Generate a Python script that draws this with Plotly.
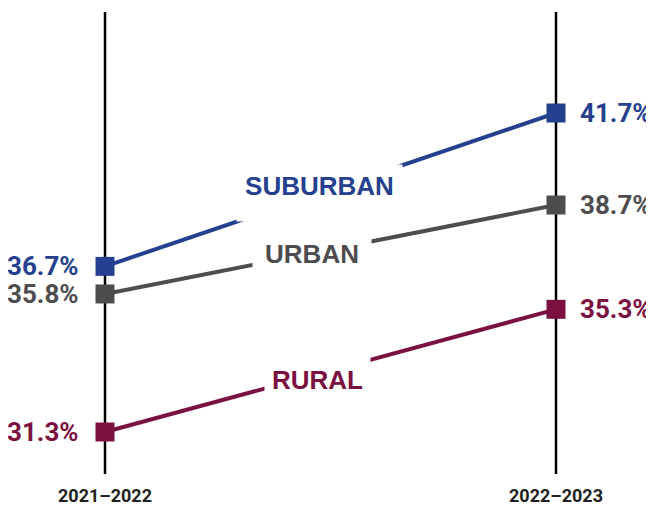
import plotly.graph_objects as go

# ---- data ----
periods = ["2021–2022", "2022–2023"]
series_names = ["SUBURBAN", "URBAN", "RURAL"]
suburban = [36.7, 41.7]
urban = [35.8, 38.7]
rural = [31.3, 35.3]

colors = {"SUBURBAN": "#24408e", "URBAN": "#4d4d4f", "RURAL": "#7b1141"}
values = {"SUBURBAN": suburban, "URBAN": urban, "RURAL": rural}

# page body has an 8px margin, so the figure is 8px smaller each way
OFF = 8
W, H = 654 - OFF, 510 - OFF
label_style = {
    "SUBURBAN": dict(frac=0.476, width=153, height=44, pad=6, valign="top", yshift=0),
    "URBAN": dict(frac=0.458, width=118, height=30, pad=0, valign="bottom", yshift=-1),
    "RURAL": dict(frac=0.472, width=105, height=40, pad=0, valign="bottom", yshift=-1),
}

num_font = "Roboto, Arial, sans-serif"
wide = "Liberation Sans, Arial, sans-serif"

xs = list(range(len(periods)))
fig = go.Figure()

for name in series_names:
    fig.add_trace(go.Scatter(
        x=xs, y=values[name], mode="lines+markers",
        line=dict(color=colors[name], width=4),
        marker=dict(symbol="square", size=19, color=colors[name], line=dict(width=0)),
        hoverinfo="skip", showlegend=False,
    ))

annotations = []
for name in series_names:
    v = values[name]
    c = colors[name]
    annotations.append(dict(
        x=0, y=v[0], xref="x", yref="y", text=f"{v[0]:.1f}%", showarrow=False,
        xanchor="right", yanchor="middle", xshift=-24,
        font=dict(family=num_font, size=26, color=c, weight="bold"),
    ))
    annotations.append(dict(
        x=1, y=v[1], xref="x", yref="y", text=f"{v[1]:.1f}%", showarrow=False,
        xanchor="left", yanchor="middle", xshift=22,
        font=dict(family=num_font, size=26, color=c, weight="bold"),
    ))
    s = label_style[name]
    ly = v[0] + (v[1] - v[0]) * s["frac"]
    annotations.append(dict(
        x=s["frac"], y=ly, xref="x", yref="y", text=name, showarrow=False,
        xanchor="center", yanchor="middle", yshift=s["yshift"],
        width=s["width"], height=s["height"], valign=s["valign"],
        bgcolor="white", borderpad=s["pad"],
        font=dict(family=wide, size=26, color=c, weight="bold"),
    ))

for i, p in enumerate(periods):
    annotations.append(dict(
        x=i, y=1 - (495 - OFF) / H, xref="x", yref="paper", text=p, showarrow=False,
        xanchor="center", yanchor="middle",
        font=dict(family=num_font, size=18, color="#231f20", weight="bold"),
    ))

shapes = []
for i in xs:
    shapes.append(dict(
        type="line", xref="x", yref="paper", x0=i, x1=i,
        y0=1 - (474 - OFF) / H, y1=1 - (12 - OFF) / H,
        line=dict(color="black", width=2.5), layer="below",
    ))

x_lo = -(105 - OFF) / 451
x_hi = x_lo + W / 451
px_per = (432 - 113) / (41.7 - 31.3)
y_hi = 41.7 + (113 - OFF) / px_per
y_lo = y_hi - H / px_per

fig.update_layout(
    width=W, height=H, margin=dict(l=0, r=0, t=0, b=0),
    paper_bgcolor="white", plot_bgcolor="white",
    xaxis=dict(range=[x_lo, x_hi], visible=False, fixedrange=True),
    yaxis=dict(range=[y_lo, y_hi], visible=False, fixedrange=True),
    annotations=annotations, shapes=shapes,
)

fig.write_html("out.html")
